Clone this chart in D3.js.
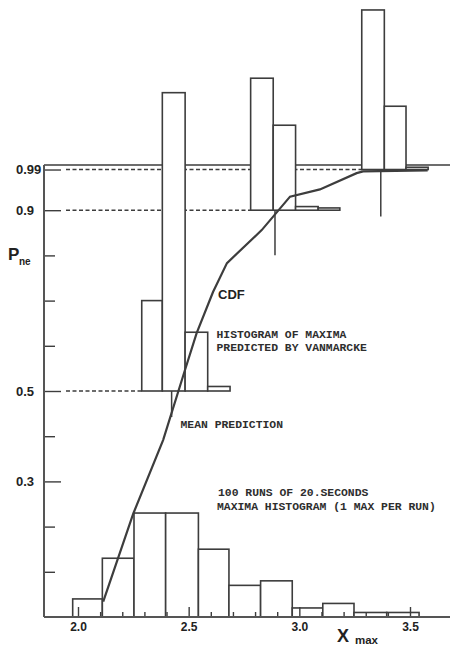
<!DOCTYPE html>
<html>
<head>
<meta charset="utf-8">
<script src="https://cdn.jsdelivr.net/npm/d3@7"></script>
<style>
  body { margin: 0; background: #fff; }
  svg { display: block; }
  .mono { font-family: 'Liberation Mono', monospace; font-weight: bold; font-size: 11.4px; fill: #2e2e2e; }
  .sans { font-family: 'Liberation Sans', Arial, sans-serif; font-weight: bold; fill: #222; }
</style>
</head>
<body>
<svg id="chart"></svg>
<script>
// 100 runs of 20 s, one maximum per run
const runEdges = [1.976, 2.110, 2.253, 2.396, 2.544, 2.682, 2.825, 2.968, 3.106, 3.247, 3.395, 3.541];
const runCounts = [4, 13, 23, 23, 15, 7, 8, 2, 3, 1, 1];

// Vanmarcke predicted histograms, each sitting on a probability level
const predBase = [0.5, 0.9, 0.99];
const predEdges = [
  [2.288, 2.381, 2.484, 2.586, 2.687],
  [2.780, 2.882, 2.983, 3.085, 3.183],
  [3.282, 3.384, 3.482, 3.582]
];
const predFreq = [
  [0.20, 0.66, 0.13, 0.01],
  [0.292, 0.188, 0.008, 0.005],
  [0.353, 0.14, 0.005]
];
const meanX = [2.423, 2.89, 3.368];

// CDF trace
const cdfX = [2.114, 2.25, 2.385, 2.483, 2.536, 2.61, 2.673, 2.83, 2.958, 3.093, 3.259, 3.288, 3.58];
const cdfP = [0.034, 0.229, 0.392, 0.546, 0.628, 0.719, 0.783, 0.856, 0.930, 0.946, 0.982, 0.986, 0.988];

// ticks
const xTicks = [2.0, 2.5, 3.0, 3.5];
const xMinor = [2.1, 2.2, 2.3, 2.4, 2.6, 2.7, 2.8, 2.9, 3.1, 3.2, 3.3, 3.4];
const yTicks = [0.3, 0.5, 0.9, 0.99];
const yMinor = [0.1, 0.2, 0.4, 0.6, 0.7, 0.8];

const ink = '#3d3d3d';

const x = d3.scaleLinear().domain([2, 3.5]).range([78, 410]);
const y = d3.scaleLinear().domain([0, 1]).range([617, 165]);

const chart = d3.select('#chart')
  .attr('width', 450)
  .attr('height', 647);

// P = 1 line and dashed levels (behind the bars)
chart.append('line')
  .attr('x1', 44).attr('x2', 450)
  .attr('y1', y(1)).attr('y2', y(1))
  .attr('stroke', ink).attr('stroke-width', 1.6);

predBase.forEach((p, i) => {
  chart.append('line')
    .attr('x1', 66).attr('x2', x(predEdges[i][0]))
    .attr('y1', y(p)).attr('y2', y(p))
    .attr('stroke', ink).attr('stroke-width', 1.4)
    .attr('stroke-dasharray', '4,2.5');
});

// measured histogram
chart.selectAll('.run')
  .data(runCounts)
  .enter().append('rect')
  .attr('class', 'run')
  .attr('x', (d, i) => x(runEdges[i]))
  .attr('width', (d, i) => x(runEdges[i + 1]) - x(runEdges[i]))
  .attr('y', d => y(d / 100))
  .attr('height', d => y(0) - y(d / 100))
  .attr('fill', '#fff')
  .attr('stroke', ink)
  .attr('stroke-width', 1.6);

// predicted histograms
predFreq.forEach((freqs, g) => {
  const base = predBase[g];
  chart.selectAll(`.pred${g}`)
    .data(freqs)
    .enter().append('rect')
    .attr('class', `pred${g}`)
    .attr('x', (d, i) => x(predEdges[g][i]))
    .attr('width', (d, i) => x(predEdges[g][i + 1]) - x(predEdges[g][i]))
    .attr('y', d => y(base + d))
    .attr('height', d => y(base) - y(base + d))
    .attr('fill', '#fff')
    .attr('stroke', ink)
    .attr('stroke-width', 1.6);
});

// mean prediction markers hanging under each group
const meanLen = [26, 45, 47];
meanX.forEach((m, i) => {
  chart.append('line')
    .attr('x1', x(m)).attr('x2', x(m))
    .attr('y1', y(predBase[i])).attr('y2', y(predBase[i]) + meanLen[i])
    .attr('stroke', ink).attr('stroke-width', 1.5);
});

// CDF
const line = d3.line()
  .x(d => x(d[0]))
  .y(d => y(d[1]));

chart.append('path')
  .datum(d3.zip(cdfX, cdfP))
  .attr('d', line)
  .attr('fill', 'none')
  .attr('stroke', ink)
  .attr('stroke-width', 2.2);

// axes
const styleAxis = g => {
  g.select('.domain').remove();
  g.selectAll('line').attr('stroke', ink).attr('stroke-width', 1.4);
  g.selectAll('text')
    .attr('class', 'sans')
    .style('font-size', '12px')
    .attr('fill', '#222');
};

chart.append('g')
  .attr('transform', `translate(0, ${y(0)})`)
  .call(d3.axisBottom(x).tickValues(xMinor).tickSize(-5).tickFormat(''))
  .call(styleAxis);

chart.append('g')
  .attr('transform', `translate(0, ${y(0)})`)
  .call(d3.axisBottom(x).tickValues(xTicks).tickSize(-10).tickPadding(5).tickFormat(d3.format('.1f')))
  .call(styleAxis);

chart.append('g')
  .attr('transform', 'translate(44, 0)')
  .call(d3.axisLeft(y).tickValues(yMinor).tickSize(-11).tickFormat(''))
  .call(styleAxis);

chart.append('g')
  .attr('transform', 'translate(44, 0)')
  .call(d3.axisLeft(y).tickValues(yTicks).tickSize(-17).tickFormat(d => String(d)))
  .call(styleAxis)
  .selectAll('text')
  .attr('text-anchor', 'start')
  .attr('x', -28)
  .style('font-size', '13px');

// axis lines
chart.append('line')
  .attr('x1', 44).attr('x2', 450)
  .attr('y1', y(0)).attr('y2', y(0))
  .attr('stroke', '#555').attr('stroke-width', 2);

chart.append('line')
  .attr('x1', 44).attr('x2', 44)
  .attr('y1', y(1)).attr('y2', y(0))
  .attr('stroke', '#555').attr('stroke-width', 2);

// axis titles
chart.append('text').attr('class', 'sans').attr('x', 8).attr('y', 260).style('font-size', '17px').text('P');
chart.append('text').attr('class', 'sans').attr('x', 19).attr('y', 265).style('font-size', '10px').text('ne');
chart.append('text').attr('class', 'sans').attr('x', 337).attr('y', 642).style('font-size', '18px').text('X');
chart.append('text').attr('class', 'sans').attr('x', 355).attr('y', 643.5).style('font-size', '11.5px').text('max');

// annotations
chart.append('text').attr('class', 'sans').attr('x', 218).attr('y', 298.5).style('font-size', '13px').text('CDF');
chart.append('text').attr('class', 'mono').attr('x', 216.5).attr('y', 337.5).text('HISTOGRAM OF MAXIMA');
chart.append('text').attr('class', 'mono').attr('x', 216.5).attr('y', 351).text('PREDICTED BY VANMARCKE');
chart.append('text').attr('class', 'mono').attr('x', 180.5).attr('y', 428).text('MEAN PREDICTION');
chart.append('text').attr('class', 'mono').attr('x', 218).attr('y', 496).text('100 RUNS OF 20.SECONDS');
chart.append('text').attr('class', 'mono').attr('x', 217).attr('y', 510).text('MAXIMA HISTOGRAM (1 MAX PER RUN)');
</script>
</body>
</html>
